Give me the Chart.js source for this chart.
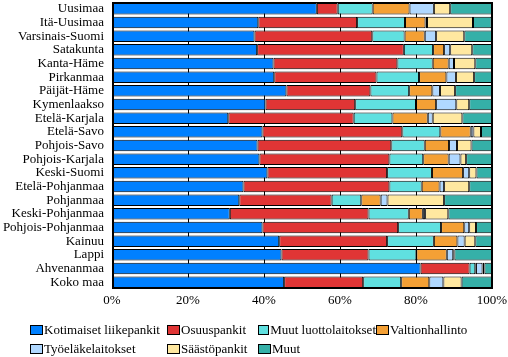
<!DOCTYPE html>
<html><head><meta charset="utf-8">
<script src="https://cdn.jsdelivr.net/npm/chart.js@4.4.1/dist/chart.umd.min.js"></script>
<style>
html,body{margin:0;padding:0;background:#fff;}
#wrap{position:relative;width:508px;height:357px;}
canvas{position:absolute;left:0;top:0;}
#legend{position:absolute;left:30px;top:320px;font-family:"Liberation Serif","Times New Roman",serif;font-size:13px;color:#000;}
.row{display:flex;height:19px;align-items:center;}
.item{display:flex;align-items:center;white-space:nowrap;}
.box{width:11px;height:8px;border:1px solid #000;margin-right:1px;}
</style></head>
<body><div id="wrap"><canvas id="c" width="508" height="357"></canvas><div id="legend"></div></div>
<script>
const categories = ["Uusimaa","Itä-Uusimaa","Varsinais-Suomi","Satakunta","Kanta-Häme","Pirkanmaa","Päijät-Häme","Kymenlaakso","Etelä-Karjala","Etelä-Savo","Pohjois-Savo","Pohjois-Karjala","Keski-Suomi","Etelä-Pohjanmaa","Pohjanmaa","Keski-Pohjanmaa","Pohjois-Pohjanmaa","Kainuu","Lappi","Ahvenanmaa","Koko maa"];
const seriesNames = ["Kotimaiset liikepankit","Osuuspankit","Muut luottolaitokset","Valtionhallinto","Työeläkelaitokset","Säästöpankit","Muut"];
const kotimaisetLiikepankit = [53.9,38.5,37.5,38.2,42.5,42.7,45.9,40.4,30.6,39.6,38.3,38.8,40.9,34.6,33.5,31.0,39.6,44.0,44.6,81.2,45.3];
const osuuspankit           = [5.5,26.0,31.0,38.6,32.6,26.9,22.1,23.6,33.0,36.8,35.2,34.2,31.5,38.4,24.3,36.5,35.7,28.4,22.9,12.9,20.8];
const muutLuottolaitokset   = [9.2,12.6,8.5,7.7,9.3,11.2,10.2,16.0,10.2,10.0,8.8,8.9,11.8,8.5,7.8,10.6,11.3,12.3,12.6,1.5,10.0];
const valtionhallinto       = [9.7,5.4,5.3,2.9,4.2,7.2,6.1,5.3,9.3,8.0,6.4,6.7,8.2,4.7,5.1,3.7,6.1,6.2,8.0,0.2,7.4];
const tyoelakelaitokset     = [6.4,0.4,3.0,1.6,1.4,2.5,2.0,5.3,1.3,0.7,2.1,3.1,1.6,1.2,1.8,0.6,1.3,1.9,1.7,1.7,3.7];
const saastopankit          = [4.3,12.1,7.4,5.8,5.6,4.8,4.0,3.4,7.8,2.0,3.8,1.5,1.9,6.6,14.9,6.1,1.8,2.8,0.3,0.5,4.8];
const muut                  = [11.0,4.9,7.3,5.2,4.4,4.7,9.7,6.0,7.8,2.9,5.4,6.8,4.1,6.0,12.6,11.5,4.2,4.4,9.9,2.0,8.0];
const xTickValues = [0,20,40,60,80,100];

const seriesValues = [kotimaisetLiikepankit,osuuspankit,muutLuottolaitokset,valtionhallinto,tyoelakelaitokset,saastopankit,muut];
const colors = ["#0080ff","#e03535","#60e0e0","#f4a035","#b0d8ff","#ffe8a0","#35b0a8"];

const frame = {
  id:'frame',
  afterDatasetsDraw(chart){
    const a = chart.chartArea, ctx = chart.ctx;
    ctx.save();
    ctx.strokeStyle = '#000';
    ctx.lineWidth = 1;
    ctx.strokeRect(a.left+0.5, a.top+0.5, a.right-a.left-1, a.bottom-a.top-1);
    ctx.lineWidth = 2;
    ctx.beginPath();
    ctx.moveTo(a.left+1, a.top); ctx.lineTo(a.left+1, a.bottom);
    ctx.moveTo(a.left, a.bottom-1); ctx.lineTo(a.right, a.bottom-1);
    ctx.stroke();
    ctx.restore();
  }
};

const chart = new Chart(document.getElementById('c'), {
  type:'bar',
  data:{
    labels:categories,
    datasets:seriesNames.map((n,i)=>({label:n,data:seriesValues[i],backgroundColor:colors[i],borderColor:'#000',borderWidth:1,borderSkipped:false,categoryPercentage:1,barPercentage:0.84}))
  },
  options:{
    indexAxis:'y',
    responsive:false,
    animation:false,
    layout:{padding:{top:2,right:16,bottom:46,left:0}},
    plugins:{legend:{display:false},tooltip:{enabled:false}},
    scales:{
      x:{
        stacked:true,min:0,max:100,
        afterBuildTicks(s){s.ticks = xTickValues.map(v=>({value:v}));},
        afterFit(s){s.height=22; s.paddingLeft=0; s.paddingRight=0;},
        ticks:{callback:v=>v+'%',color:'#000',padding:4,maxRotation:0,font:{family:'"Liberation Serif","Times New Roman",serif',size:13}},
        grid:{color:'#000',drawTicks:false,lineWidth:1},
        border:{display:false}
      },
      y:{
        stacked:true,
        afterFit(s){s.width=112; s.paddingTop=0; s.paddingBottom=0;},
        ticks:{color:'#000',padding:8,autoSkip:false,font:{family:'"Liberation Serif","Times New Roman",serif',size:13}},
        grid:{display:false,drawTicks:false},
        border:{display:false}
      }
    }
  },
  plugins:[frame]
});

// HTML legend built from the chart's datasets, in a grid of 4 columns
const colW = [137,91,118,120];
const leg = document.getElementById('legend');
const ds = chart.data.datasets;
for(let r=0;r<2;r++){
  const row = document.createElement('div'); row.className='row';
  for(let c=0;c<4;c++){
    const i = r*4+c; if(i>=ds.length) break;
    const it = document.createElement('div'); it.className='item'; it.style.width=colW[c]+'px';
    const b = document.createElement('span'); b.className='box'; b.style.background=ds[i].backgroundColor;
    const t = document.createElement('span'); t.textContent=ds[i].label;
    it.appendChild(b); it.appendChild(t); row.appendChild(it);
  }
  leg.appendChild(row);
}
</script></body></html>
